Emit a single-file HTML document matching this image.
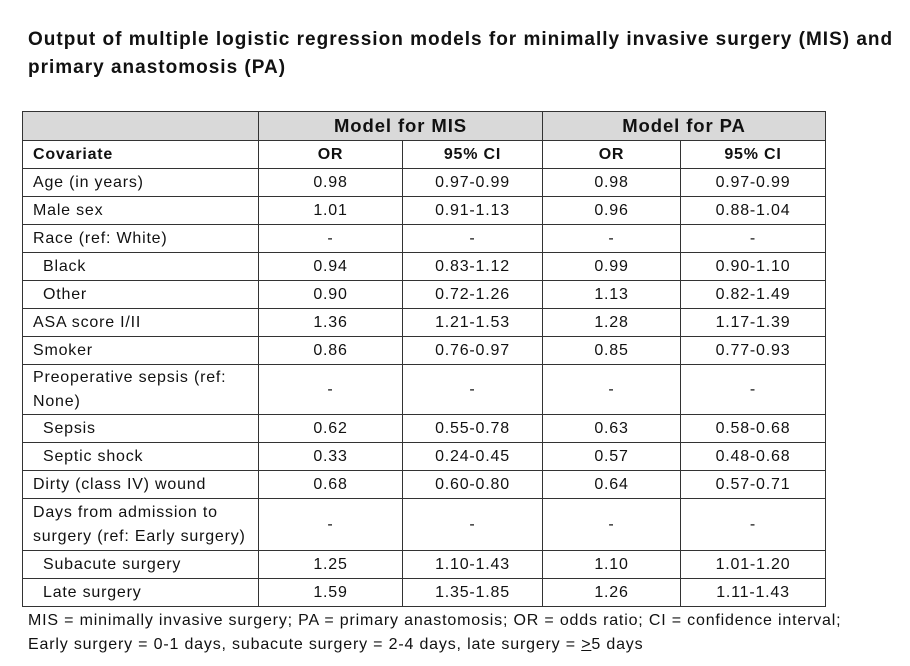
<!DOCTYPE html>
<html><head><meta charset="utf-8"><style>
body{margin:0;width:910px;height:666px;background:#fff;font-family:"Liberation Sans",sans-serif;color:#111;position:relative;overflow:hidden}
#title{position:absolute;left:28px;top:26px;font-size:19px;letter-spacing:1px;font-weight:bold;line-height:28px;width:880px}
table{position:absolute;left:22px;top:111px;border-collapse:collapse;table-layout:fixed;font-size:16px;letter-spacing:0.8px}
td{border:1px solid #333;padding:0;text-align:center;vertical-align:middle;line-height:24px;white-space:nowrap}
td.l{text-align:left;padding-left:10px}
td.i{text-align:left;padding-left:20px}
tr.h1 td{background:#d9d9d9;font-size:18.5px;font-weight:bold;letter-spacing:0.9px}
tr.h2 td{font-weight:bold}
.foot{position:absolute;left:28px;font-size:16px;letter-spacing:0.82px;white-space:nowrap}
</style></head><body>
<div id="title">Output of multiple logistic regression models for minimally invasive surgery (MIS) and primary anastomosis (PA)</div>
<table>
<colgroup><col style="width:236px"><col style="width:144px"><col style="width:140px"><col style="width:138px"><col style="width:145px"></colgroup>
<tr class="h1" style="height:29px"><td></td><td colspan="2">Model for MIS</td><td colspan="2">Model for PA</td></tr>
<tr class="h2" style="height:28px"><td class="l">Covariate</td><td>OR</td><td>95% CI</td><td>OR</td><td>95% CI</td></tr>
<tr style="height:28px"><td class="l">Age (in years)</td><td>0.98</td><td>0.97-0.99</td><td>0.98</td><td>0.97-0.99</td></tr>
<tr style="height:28px"><td class="l">Male sex</td><td>1.01</td><td>0.91-1.13</td><td>0.96</td><td>0.88-1.04</td></tr>
<tr style="height:28px"><td class="l">Race (ref: White)</td><td>-</td><td>-</td><td>-</td><td>-</td></tr>
<tr style="height:28px"><td class="i">Black</td><td>0.94</td><td>0.83-1.12</td><td>0.99</td><td>0.90-1.10</td></tr>
<tr style="height:28px"><td class="i">Other</td><td>0.90</td><td>0.72-1.26</td><td>1.13</td><td>0.82-1.49</td></tr>
<tr style="height:28px"><td class="l">ASA score I/II</td><td>1.36</td><td>1.21-1.53</td><td>1.28</td><td>1.17-1.39</td></tr>
<tr style="height:28px"><td class="l">Smoker</td><td>0.86</td><td>0.76-0.97</td><td>0.85</td><td>0.77-0.93</td></tr>
<tr style="height:50px"><td class="l">Preoperative sepsis (ref:<br>None)</td><td>-</td><td>-</td><td>-</td><td>-</td></tr>
<tr style="height:28px"><td class="i">Sepsis</td><td>0.62</td><td>0.55-0.78</td><td>0.63</td><td>0.58-0.68</td></tr>
<tr style="height:28px"><td class="i">Septic shock</td><td>0.33</td><td>0.24-0.45</td><td>0.57</td><td>0.48-0.68</td></tr>
<tr style="height:28px"><td class="l">Dirty (class IV) wound</td><td>0.68</td><td>0.60-0.80</td><td>0.64</td><td>0.57-0.71</td></tr>
<tr style="height:52px"><td class="l">Days from admission to<br>surgery (ref: Early surgery)</td><td>-</td><td>-</td><td>-</td><td>-</td></tr>
<tr style="height:28px"><td class="i">Subacute surgery</td><td>1.25</td><td>1.10-1.43</td><td>1.10</td><td>1.01-1.20</td></tr>
<tr style="height:28px"><td class="i">Late surgery</td><td>1.59</td><td>1.35-1.85</td><td>1.26</td><td>1.11-1.43</td></tr>
</table>
<div class="foot" style="top:612px">MIS = minimally invasive surgery; PA = primary anastomosis; OR = odds ratio; CI = confidence interval;</div>
<div class="foot" style="top:636px">Early surgery = 0-1 days, subacute surgery = 2-4 days, late surgery = <u>&gt;</u>5 days</div>
</body></html>
